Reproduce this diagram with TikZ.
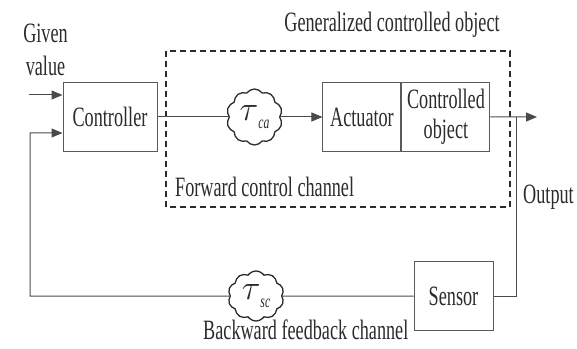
\documentclass[tikz,border=0pt]{standalone}
\usepackage{fontspec}
\setmainfont{Liberation Serif}[FakeStretch=0.65]
\usetikzlibrary{arrows.meta,positioning,shapes.symbols}
\definecolor{Ink}{HTML}{2B2B2B}
\definecolor{Wire}{HTML}{4A4A4A}
\definecolor{Frame}{HTML}{5A5A5A}
\newcommand{\delaylabel}[1]{\scalebox{1.4}{$\tau$}\raisebox{-8pt}{\fontsize{18}{18}\selectfont\itshape #1}}
\tikzset{
  blockbox/.style={draw=Frame,line width=1pt,minimum height=69pt,inner sep=0pt,align=center,text=Ink},
  delaycloud/.style={draw=Ink,line width=1.3pt,cloud,cloud puffs=10,cloud puff arc=110,cloud ignores aspect,minimum width=56pt,minimum height=56pt,inner sep=0pt,text=Ink},
  line/.style={-{Triangle[length=11pt,width=9pt]},draw=Wire,line width=1pt},
  wire/.style={draw=Wire,line width=1pt},
  groupbox/.style={draw=Ink,line width=1.3pt,dash pattern=on 6pt off 4pt},
  caption/.style={text=Ink,inner sep=0pt}
}

\begin{document}
\begin{tikzpicture}[x=1pt,y=1pt,node distance=42pt,font=\fontsize{28}{30}\selectfont]
  \useasboundingbox (0,0) rectangle (577,348);
  % forward path
  \node[blockbox,minimum width=94pt] (ctrl) at (110,231) {Controller};
  \node[delaycloud,right=71pt of ctrl] (tca) {\delaylabel{ca}};
  \node[blockbox,minimum width=78pt,right=of tca] (act) {Actuator};
  \node[blockbox,minimum width=88pt,right=0pt of act] (obj) {Controlled\\object};
  % feedback path
  \node[blockbox,minimum width=79pt] (sens) at (453.5,52) {Sensor};
  \node[delaycloud,minimum height=50pt] (tsc) at (256,52) {\delaylabel{sc}};
  % labels
  \node[caption,align=center,font=\fontsize{28}{33}\selectfont] (given) at (45.5,298) {Given\\value};
  \node[caption] (gco) at (392,323) {Generalized controlled object};
  \node[caption,anchor=west] (fcc) at (175,161) {Forward control channel};
  \node[caption,anchor=west] (outlbl) at (523,151) {Output};
  \node[caption,anchor=base west] (bfc) at (203,9) {Backward feedback channel};
  \draw[groupbox] (166,141) rectangle (510,297);
  \coordinate (branch) at (516,231);
  \coordinate (outend) at (537,231);
  \coordinate (in1) at (29,253);
  \coordinate (fbleft) at (30,52);
  \draw[wire] (ctrl) -- (tca);
  \draw[line] (tca) -- (act);
  \draw[line] (obj) -- (outend);
  \draw[wire] (branch) |- (sens);
  \draw[wire] (sens) -- (tsc);
  \draw[line] (tsc) -- (fbleft) |- ([yshift=-16pt]ctrl.west);
  \draw[line] (in1) -- (in1 -| ctrl.west);
\end{tikzpicture}
\end{document}
